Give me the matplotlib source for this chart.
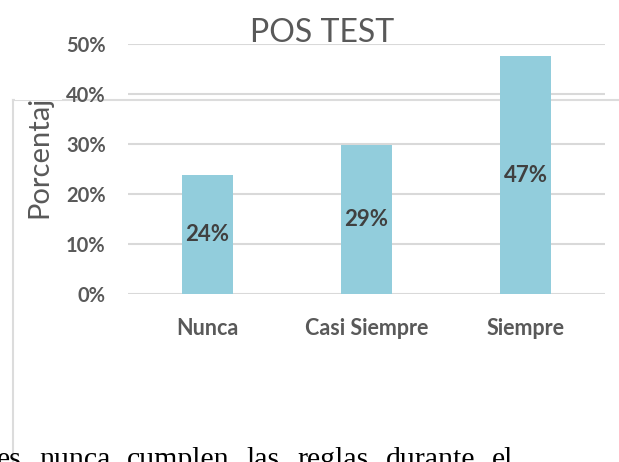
import matplotlib
matplotlib.use("Agg")
import matplotlib.pyplot as plt
from matplotlib.lines import Line2D
from matplotlib.patches import Rectangle

categorias = ['Nunca', 'Casi Siempre', 'Siempre']
valores = [0.238, 0.298, 0.476]
etiquetas = ['24%', '29%', '47%']
yticks = [0, 0.1, 0.2, 0.3, 0.4, 0.5]
ytick_labels = ['0%', '10%', '20%', '30%', '40%', '50%']
palabras = ['es', 'nunca', 'cumplen', 'las', 'reglas', 'durante', 'el']

W, H = 619, 462
gris = '#595959'

plt.rcParams['font.family'] = ['Lato', 'DejaVu Sans']
fig = plt.figure(figsize=(W / 100, H / 100), dpi=100)

# marco del cuadro de texto de Word (detras del grafico)
fig.add_artist(Line2D([13 / W, 13 / W], [0, 1 - 100.5 / H], color='#DCDCDC', lw=1.5, zorder=-1))
fig.add_artist(Line2D([13 / W, 1], [1 - 100.5 / H, 1 - 100.5 / H], color='#DCDCDC', lw=1.5, zorder=-1))

ax = fig.add_axes([128 / W, (H - 294.3) / H, 477 / W, 250 / H])
ax.patch.set_visible(False)

x = range(len(categorias))
barras = ax.bar(x, valores, width=0.315, color='#92CDDC', zorder=3)
for b, txt in zip(barras, etiquetas):
    ax.text(b.get_x() + b.get_width() / 2, b.get_height() / 2, txt,
            ha='center', va='center', fontsize=16, fontweight='bold', color='#404040', zorder=4)

ax.set_xlim(-0.5, 2.5)
ax.set_ylim(0, 0.5)
ax.set_yticks(yticks)
ax.set_yticklabels(ytick_labels)
ax.set_xticks(list(x))
ax.set_xticklabels(categorias)
ax.tick_params(axis='y', length=0, pad=16, labelsize=14.5, labelcolor=gris)
ax.tick_params(axis='x', length=0, pad=17, labelsize=15.5, labelcolor=gris)
for lab in ax.get_xticklabels() + ax.get_yticklabels():
    lab.set_fontweight('bold')
ax.grid(axis='y', color='#D9D9D9', lw=1.5, zorder=0)
for s in ax.spines.values():
    s.set_visible(False)

fig.text(322 / W, 1 - 42 / H, 'POS TEST', ha='center', va='baseline', fontsize=23, color=gris)

# etiqueta del eje, tapada por encima del marco
fig.text(47 / W, 1 - 218 / H, 'Porcentaje', rotation=90, rotation_mode='anchor',
         ha='left', va='baseline', fontsize=21, color=gris, zorder=3)
fig.add_artist(Rectangle((15 / W, 1 - 99.5 / H), 47 / W, 99.5 / H, transform=fig.transFigure,
                         facecolor='white', edgecolor='none', zorder=5))

# texto del documento debajo del grafico (cortado por el borde)
r = fig.canvas.get_renderer()
xpos = -3
for p in palabras:
    t = fig.text(xpos / W, 1 - 467 / H, p, ha='left', va='baseline', fontsize=21.5,
                 family='Liberation Serif', color='black')
    xpos += t.get_window_extent(renderer=r).width + 17

fig.savefig('out.png', dpi=100)
